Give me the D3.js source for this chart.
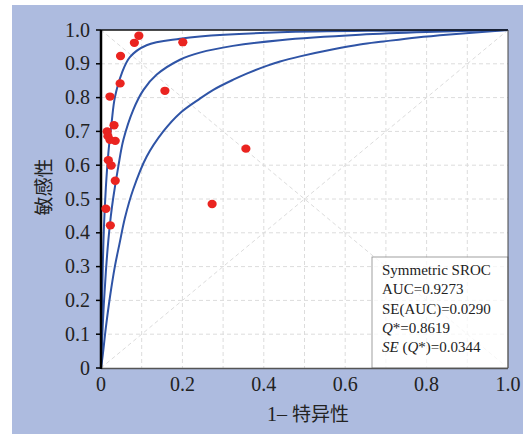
<!DOCTYPE html>
<html>
<head>
<meta charset="utf-8">
<script src="https://cdn.jsdelivr.net/npm/d3@7"></script>
<style>
  body { margin: 0; background: #fff; }
  svg { display: block; }
</style>
</head>
<body>
<div id="chart"></div>
<script>
"use strict";

// study points: 1 - specificity, sensitivity
const studyFpr  = [0.093, 0.082, 0.201, 0.048, 0.047, 0.022, 0.157, 0.032, 0.015, 0.017, 0.022, 0.035, 0.356, 0.018, 0.025, 0.035, 0.012, 0.273, 0.023];
const studySens = [0.983, 0.962, 0.964, 0.923, 0.842, 0.803, 0.820, 0.718, 0.700, 0.686, 0.675, 0.672, 0.649, 0.615, 0.599, 0.554, 0.471, 0.485, 0.422];

// SROC curves (outer bound, fitted curve, inner bound)
const outerFpr  = [0, 0.002, 0.004, 0.007, 0.012, 0.018, 0.026, 0.034, 0.051, 0.071, 0.112, 0.194, 0.243, 0.44, 0.7, 1];
const outerSens = [0, 0.16, 0.28, 0.41, 0.535, 0.635, 0.725, 0.8, 0.872, 0.92, 0.955, 0.974, 0.981, 0.993, 0.998, 1];
const midFpr    = [0, 0.003, 0.007, 0.012, 0.018, 0.024, 0.030, 0.0425, 0.055, 0.079, 0.104, 0.137, 0.194, 0.243, 0.324, 0.44, 0.636, 0.8, 1];
const midSens   = [0, 0.09, 0.19, 0.286, 0.377, 0.448, 0.503, 0.596, 0.675, 0.763, 0.822, 0.868, 0.912, 0.933, 0.953, 0.97, 0.986, 0.994, 1];
const innerFpr  = [0, 0.004, 0.012, 0.022, 0.034, 0.045, 0.059, 0.079, 0.112, 0.153, 0.194, 0.243, 0.276, 0.325, 0.358, 0.407, 0.44, 0.489, 0.571, 0.636, 0.694, 0.776, 0.857, 1];
const innerSens = [0, 0.035, 0.12, 0.21, 0.3, 0.365, 0.445, 0.528, 0.625, 0.7, 0.754, 0.797, 0.823, 0.853, 0.871, 0.894, 0.907, 0.922, 0.943, 0.957, 0.966, 0.978, 0.987, 1];

const xTicks = [0, 0.2, 0.4, 0.6, 0.8, 1.0];
const yTicks = [0, 0.1, 0.2, 0.3, 0.4, 0.5, 0.6, 0.7, 0.8, 0.9, 1.0];
const gridVals = [0.1, 0.2, 0.3, 0.4, 0.5, 0.6, 0.7, 0.8, 0.9];

const statLines = [
  [{t: "Symmetric SROC"}],
  [{t: "AUC=0.9273"}],
  [{t: "SE(AUC)=0.0290"}],
  [{t: "Q", i: true}, {t: "*=0.8619"}],
  [{t: "SE", i: true}, {t: " ("}, {t: "Q", i: true}, {t: "*)=0.0344"}]
];

const W = 523, H = 434;
const pLeft = 101, pRight = 508, pTop = 30, pBottom = 368;
const serif = "'Liberation Serif', 'Times New Roman', serif";
const cjk = "'Noto Sans CJK SC', sans-serif";

const svg = d3.select("#chart").append("svg").attr("width", W).attr("height", H);

// blue panel
svg.append("rect").attr("x", 12).attr("y", 5).attr("width", W - 12).attr("height", H - 5).attr("fill", "#adbbdf");

const x = d3.scaleLinear().domain([0, 1]).range([pLeft, pRight]);
const y = d3.scaleLinear().domain([0, 1]).range([pBottom, pTop]);

// plot area
svg.append("rect").attr("x", pLeft).attr("y", pTop).attr("width", pRight - pLeft).attr("height", pBottom - pTop).attr("fill", "#fff");

const grid = svg.append("g").attr("stroke", "#dcdcdc").attr("stroke-width", 1).attr("stroke-dasharray", "4,3");
grid.selectAll(".gx").data(gridVals).enter().append("line")
  .attr("x1", d => x(d)).attr("x2", d => x(d)).attr("y1", pTop).attr("y2", pBottom);
grid.selectAll(".gy").data(gridVals).enter().append("line")
  .attr("x1", pLeft).attr("x2", pRight).attr("y1", d => y(d)).attr("y2", d => y(d));
// diagonals
grid.append("line").attr("x1", x(0)).attr("y1", y(0)).attr("x2", x(1)).attr("y2", y(1));
grid.append("line").attr("x1", x(0)).attr("y1", y(1)).attr("x2", x(1)).attr("y2", y(0));

// stats box
svg.append("rect").attr("x", 372).attr("y", 257).attr("width", pRight - 372).attr("height", pBottom - 257)
  .attr("fill", "#fff").attr("fill-opacity", 0.75).attr("stroke", "#888").attr("stroke-width", 0.8);

// SROC curves
const line = d3.line().x(d => x(d[0])).y(d => y(d[1])).curve(d3.curveCatmullRom.alpha(0.5));
[[outerFpr, outerSens], [midFpr, midSens], [innerFpr, innerSens]].forEach(function(c) {
  svg.append("path").datum(d3.zip(c[0], c[1])).attr("d", line)
    .attr("fill", "none").attr("stroke", "#2f54a6").attr("stroke-width", 2);
});

// frame
svg.append("line").attr("x1", pLeft).attr("x2", pRight).attr("y1", pTop).attr("y2", pTop).attr("stroke", "#111").attr("stroke-width", 1.5);
svg.append("line").attr("x1", pRight).attr("x2", pRight).attr("y1", pTop).attr("y2", pBottom).attr("stroke", "#444").attr("stroke-width", 1);
svg.append("line").attr("x1", pLeft).attr("x2", pRight).attr("y1", pBottom + 0.5).attr("y2", pBottom + 0.5).attr("stroke", "#555").attr("stroke-width", 1.5);
svg.append("line").attr("x1", pLeft).attr("x2", pLeft).attr("y1", pTop).attr("y2", pBottom + 1).attr("stroke", "#000").attr("stroke-width", 2.5);

// study points
svg.append("g").selectAll("ellipse").data(d3.zip(studyFpr, studySens)).enter().append("ellipse")
  .attr("cx", d => x(d[0])).attr("cy", d => y(d[1])).attr("rx", 4.6).attr("ry", 4.2).attr("fill", "#ea2420");

// y axis
svg.append("g").selectAll("line").data(yTicks).enter().append("line")
  .attr("x1", pLeft - 5).attr("x2", pLeft).attr("y1", d => y(d)).attr("y2", d => y(d))
  .attr("stroke", "#000").attr("stroke-width", 1.5);
svg.append("g").selectAll("text").data(yTicks).enter().append("text")
  .attr("x", 90).attr("y", d => y(d) + 6.5).attr("text-anchor", "end")
  .attr("font-family", serif).attr("font-size", 20).attr("fill", "#222")
  .text(d => d === 0 ? "0" : d.toFixed(1));

// x axis labels
svg.append("g").selectAll("text").data(xTicks).enter().append("text")
  .attr("x", d => x(d)).attr("y", 391).attr("text-anchor", "middle")
  .attr("font-family", serif).attr("font-size", 20).attr("fill", "#222")
  .text(d => d === 0 ? "0" : d.toFixed(1));

// axis titles
const xt = svg.append("text").attr("x", 308).attr("y", 421).attr("text-anchor", "middle").attr("fill", "#222");
xt.append("tspan").attr("font-family", serif).attr("font-size", 20).text("1– ");
xt.append("tspan").attr("font-family", cjk).attr("font-size", 19).text("特异性");

svg.append("text").attr("transform", "translate(51,187) rotate(-90)").attr("text-anchor", "middle")
  .attr("font-family", cjk).attr("font-size", 19).attr("fill", "#222").text("敏感性");

// stats text
statLines.forEach(function(parts, k) {
  const t = svg.append("text").attr("x", 382).attr("y", 275 + k * 19.3)
    .attr("font-family", serif).attr("font-size", 15).attr("fill", "#222");
  parts.forEach(p => t.append("tspan").attr("font-style", p.i ? "italic" : "normal").text(p.t));
});
</script>
</body>
</html>
